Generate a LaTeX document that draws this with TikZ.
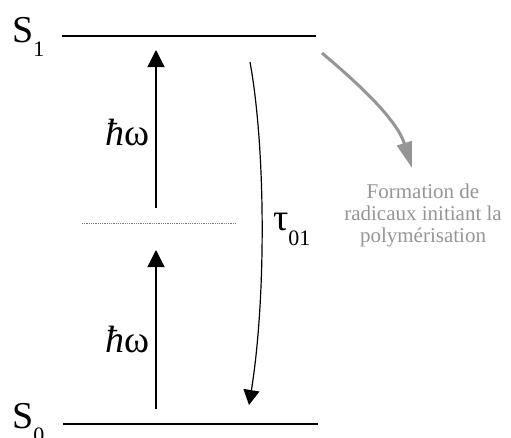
\documentclass[tikz,border=0pt]{standalone}
\usepackage{fontspec}
\setmainfont{Liberation Serif}
\newfontfamily\jabserif{Liberation Serif}
\usetikzlibrary{arrows.meta,positioning}
\definecolor{JabNote}{HTML}{959595}
\definecolor{JabVirtual}{HTML}{7A7A7A}
\newcommand{\lowsub}[2][0.37]{\raisebox{-#1em}{\fontsize{22}{22}\selectfont #2}}
\tikzset{
  jablevel/.style={
    line width=1.2pt,
    draw=black
  },
  jabvirtual/.style={
    line width=0.8pt,
    draw=JabVirtual,
    densely dotted
  },
  jabbig/.style={
    inner sep=0pt,
    font=\jabserif\fontsize{38}{42}\selectfont
  },
  jabnote/.style={
    inner sep=0pt,
    align=center,
    text=JabNote,
    font=\jabserif\fontsize{21}{22}\selectfont
  },
  jabup/.style={-{Triangle[length=17pt,width=17pt]},line width=1.2pt},
  jabdown/.style={-{Triangle[length=15pt,width=16pt]},line width=1.2pt},
  jabnotearrow/.style={-{Triangle[length=26pt,width=15pt]},line width=3pt,draw=JabNote}
}

\begin{document}
\begin{tikzpicture}[x=1pt,y=-1pt]
        \useasboundingbox (0,0) rectangle (511,437);
        \node[jabbig,anchor=base west] (s1lab) at (12,42) {S\lowsub{1}};
        \node[jabbig,anchor=base west] (s0lab) at (12,428) {S\lowsub{0}};
        \node[jabbig,anchor=base] (hw1) at (128,145) {{\itshape ħ}ω};
        \node[jabbig,anchor=base] (hw2) at (128,352) {{\itshape ħ}ω};
        \node[jabbig,anchor=base west] (tau) at (273,230) {τ\lowsub[0.4]{01}};
        \node[jabnote] (note) at (423,215) {Formation de\\radicaux initiant la\\polymérisation};
        \coordinate (s1a) at (62,36);
        \coordinate (s1b) at (316,36);
        \coordinate (s0a) at (63,424);
        \coordinate (s0b) at (318,424);
        \coordinate (vira) at (82,223);
        \coordinate (virb) at (236,223);
        \coordinate (up1a) at (156,208);
        \coordinate (up1b) at (156,50);
        \coordinate (up2a) at (156,409);
        \coordinate (up2b) at (156,250);
        \coordinate (dna) at (250,62);
        \coordinate (dnb) at (249,405);
        \coordinate (nta) at (322,53);
        \coordinate (ntb) at (412,168);
        \draw[jablevel] (s1a) -- (s1b);
        \draw[jablevel] (s0a) -- (s0b);
        \draw[jabvirtual] (vira) -- (virb);
        \draw[jabup] (up1a) -- (up1b);
        \draw[jabup] (up2a) -- (up2b);
        \draw[jabdown] (dna) .. controls (266,150) and (266,300) .. (dnb);
        \draw[jabnotearrow] (nta) .. controls (360,85) and (397,120) .. (ntb);
      \end{tikzpicture}
\end{document}
